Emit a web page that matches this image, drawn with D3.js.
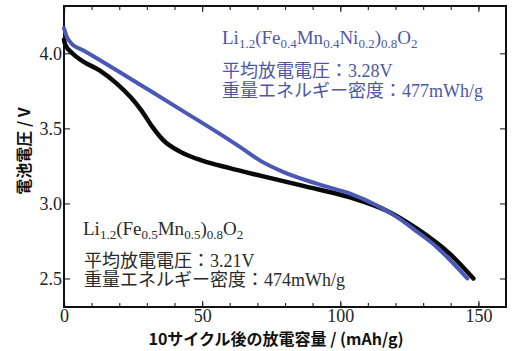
<!DOCTYPE html>
<html>
<head>
<meta charset="utf-8">
<script src="https://cdn.jsdelivr.net/npm/d3@7"></script>
<style>
  body { margin: 0; background: #fff; }
  svg text { font-family: "Liberation Serif", "Noto Sans CJK JP", serif; }
</style>
</head>
<body>
<div id="chart"></div>
<script>
// discharge curves after 10 cycles (capacity mAh/g, voltage V)
var niCap  = [0, 1.1, 3, 6.9, 19.2, 31.2, 43.1, 55.4, 63.8, 71, 79.3, 91.7, 103.6, 113.4, 119.2, 127.9, 135.1, 140.9, 146];
var niVolt = [4.167, 4.107, 4.06, 4.02, 3.885, 3.75, 3.615, 3.475, 3.375, 3.285, 3.21, 3.13, 3.065, 2.985, 2.925, 2.81, 2.707, 2.60, 2.50];

var feCap  = [0, 0.4, 3, 7, 13, 19, 24, 28, 32, 36, 42, 50, 60, 71, 87, 103.6, 117, 127.9, 139.9, 148.2];
var feVolt = [4.09, 4.06, 4.0, 3.945, 3.885, 3.8, 3.71, 3.62, 3.51, 3.42, 3.345, 3.285, 3.235, 3.185, 3.115, 3.04, 2.95, 2.83, 2.66, 2.50];

var xTicks = [0, 50, 100, 150];
var xMinor = d3.range(0, 160, 10);
var yTicks = [2.5, 3.0, 3.5, 4.0];

var width = 514, height = 351;
var mLeft = 64, mRight = 506, mTop = 6, mBottom = 307;

var x = d3.scaleLinear().domain([0, 160]).range([mLeft, mRight]);
var y = d3.scaleLinear().domain([2.31, 4.315]).range([mBottom, mTop]);

var svg = d3.select("#chart").append("svg")
  .attr("width", width)
  .attr("height", height);

// ticks pointing inward
svg.append("g")
  .attr("transform", "translate(0," + mBottom + ")")
  .call(d3.axisBottom(x).tickValues(xMinor).tickSize(-4).tickFormat(""))
  .call(function(g) { g.select(".domain").remove(); g.selectAll("text").remove(); });
svg.append("g")
  .attr("transform", "translate(0," + mTop + ")")
  .call(d3.axisTop(x).tickValues(xMinor).tickSize(-4).tickFormat(""))
  .call(function(g) { g.select(".domain").remove(); g.selectAll("text").remove(); });

var xAxis = svg.append("g")
  .attr("transform", "translate(0," + mBottom + ")")
  .call(d3.axisBottom(x).tickValues(xTicks).tickSize(-6).tickPadding(2).tickFormat(d3.format("d")));
xAxis.select(".domain").remove();
xAxis.selectAll("text").attr("font-size", 18).attr("fill", "#222")
  .attr("font-family", "Liberation Serif");

svg.append("g")
  .attr("transform", "translate(0," + mTop + ")")
  .call(d3.axisTop(x).tickValues(xTicks).tickSize(-6).tickFormat(""))
  .call(function(g) { g.select(".domain").remove(); g.selectAll("text").remove(); });

var yAxis = svg.append("g")
  .attr("transform", "translate(" + mLeft + ",0)")
  .call(d3.axisLeft(y).tickValues(yTicks).tickSize(-6).tickPadding(2).tickFormat(d3.format(".1f")));
yAxis.select(".domain").remove();
yAxis.selectAll("text").attr("font-size", 18).attr("fill", "#222")
  .attr("font-family", "Liberation Serif");

svg.append("g")
  .attr("transform", "translate(" + mRight + ",0)")
  .call(d3.axisRight(y).tickValues(yTicks).tickSize(-6).tickFormat(""))
  .call(function(g) { g.select(".domain").remove(); g.selectAll("text").remove(); });

svg.selectAll(".tick line").attr("stroke", "#333").attr("stroke-width", 1.2);

// frame
svg.append("rect")
  .attr("x", mLeft).attr("y", mTop)
  .attr("width", mRight - mLeft).attr("height", mBottom - mTop)
  .attr("fill", "none").attr("stroke", "#111").attr("stroke-width", 2);

// curves
var line = d3.line()
  .x(function(d) { return x(d[0]); })
  .y(function(d) { return y(d[1]); })
  .curve(d3.curveMonotoneX);

svg.append("path")
  .datum(d3.zip(feCap, feVolt))
  .attr("d", line)
  .attr("fill", "none")
  .attr("stroke", "#0a0a0a")
  .attr("stroke-width", 4.5)
  .attr("stroke-linecap", "round");

svg.append("path")
  .datum(d3.zip(niCap, niVolt))
  .attr("d", line)
  .attr("fill", "none")
  .attr("stroke", "#4a58b6")
  .attr("stroke-width", 4)
  .attr("stroke-linecap", "round");

// formula with subscripts
function formula(g, parts, xp, yp, color) {
  var t = g.append("text").attr("x", xp).attr("y", yp)
    .attr("fill", color).attr("font-size", 19);
  var low = false;
  parts.forEach(function(p) {
    var sub = !!p[1];
    var dy = sub === low ? 0 : (sub ? 4 : -4);
    low = sub;
    t.append("tspan")
      .attr("font-size", sub ? 13 : 19)
      .attr("dy", dy)
      .text(p[0]);
  });
}

var blueText = "#4d57a6", darkText = "#2a2a2a";

formula(svg, [["Li"], ["1.2", 1], ["(Fe"], ["0.4", 1], ["Mn"], ["0.4", 1], ["Ni"], ["0.2", 1], [")"], ["0.8", 1], ["O"], ["2", 1]], 222, 44, blueText);
svg.append("text").attr("x", 222).attr("y", 77).attr("font-size", 18).attr("fill", blueText)
  .text("平均放電電圧：3.28V");
svg.append("text").attr("x", 222).attr("y", 97).attr("font-size", 18).attr("fill", blueText)
  .text("重量エネルギー密度：477mWh/g");

formula(svg, [["Li"], ["1.2", 1], ["(Fe"], ["0.5", 1], ["Mn"], ["0.5", 1], [")"], ["0.8", 1], ["O"], ["2", 1]], 83, 235, darkText);
svg.append("text").attr("x", 84).attr("y", 267).attr("font-size", 18).attr("fill", darkText)
  .text("平均放電電圧：3.21V");
svg.append("text").attr("x", 84).attr("y", 286).attr("font-size", 18).attr("fill", darkText)
  .text("重量エネルギー密度：474mWh/g");

// axis titles
svg.append("text")
  .attr("x", 276).attr("y", 345)
  .attr("text-anchor", "middle")
  .attr("font-size", 16).attr("font-weight", "bold")
  .style("font-family", "'Noto Sans CJK JP', sans-serif")
  .attr("fill", "#111")
  .text("10サイクル後の放電容量 / (mAh/g)");

svg.append("text")
  .attr("transform", "translate(30,151) rotate(-90)")
  .attr("text-anchor", "middle")
  .attr("font-size", 16).attr("font-weight", "bold")
  .style("font-family", "'Noto Sans CJK JP', sans-serif")
  .attr("fill", "#111")
  .text("電池電圧 / V");
</script>
</body>
</html>
